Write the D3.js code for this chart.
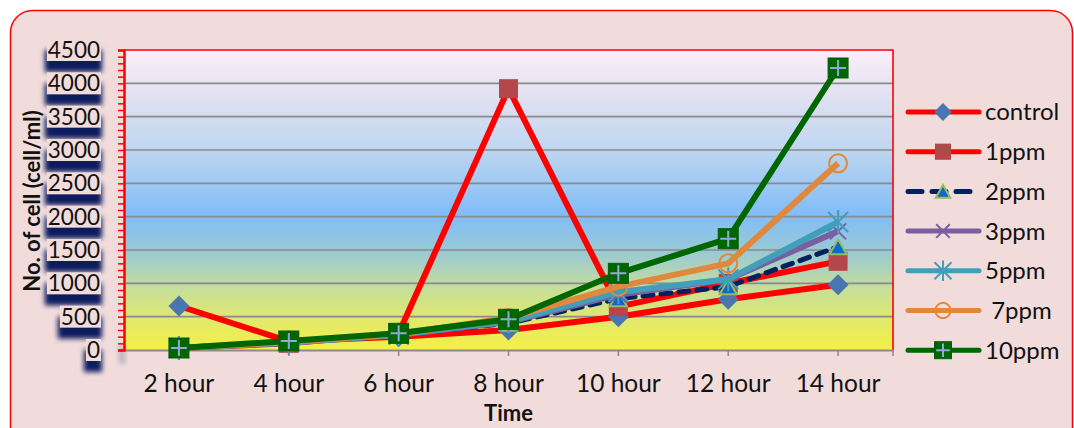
<!DOCTYPE html>
<html>
<head>
<meta charset="utf-8">
<script src="https://cdn.jsdelivr.net/npm/d3@7"></script>
<style>
  html, body { margin: 0; padding: 0; background: #ffffff; }
  svg { display: block; }
  text { font-family: Lato, "Open Sans", sans-serif; fill: #111; }
</style>
</head>
<body>
<svg id="chart" width="1074" height="428"></svg>
<script>
// ---- data ----
const categories = ["2 hour", "4 hour", "6 hour", "8 hour", "10 hour", "12 hour", "14 hour"];
const seriesNames = ["control", "1ppm", "2ppm", "3ppm", "5ppm", " 7ppm", "10ppm"];
const control = [660, 130, 200, 300, 500, 760, 980];
const ppm1    = [30, 100, 250, 3920, 650, 1000, 1330];
const ppm2    = [30, 110, 230, 400, 770, 950, 1550];
const ppm3    = [30, 110, 230, 420, 830, 1060, 1780];
const ppm5    = [30, 110, 230, 430, 870, 1060, 1920];
const ppm7    = [30, 120, 240, 480, 950, 1300, 2800];
const ppm10   = [30, 135, 250, 460, 1150, 1670, 4230];
const yTicks  = [0, 500, 1000, 1500, 2000, 2500, 3000, 3500, 4000, 4500];

const seriesValues = [control, ppm1, ppm2, ppm3, ppm5, ppm7, ppm10];

// ---- styling per series ----
const styles = [
  { line: "#ff0000", width: 6, dash: null, marker: "diamond", fill: "#4a76b0", stroke: "none" },
  { line: "#ff0000", width: 6, dash: null, marker: "square",  fill: "#b3474a", stroke: "none" },
  { line: "#002060", width: 5, dash: "10,8", marker: "triangle", fill: "#0a6ad0", stroke: "#9bbb59" },
  { line: "#7a5fa0", width: 6, dash: null, marker: "x",        fill: "none", stroke: "#7a5fa0" },
  { line: "#419fba", width: 6, dash: null, marker: "star",     fill: "none", stroke: "#419fba" },
  { line: "#e0883c", width: 6, dash: null, marker: "circle",   fill: "none", stroke: "#e0883c" },
  { line: "#006600", width: 6, dash: null, marker: "plusbox",  fill: "#006600", stroke: "#8eaadb" }
];

const svg = d3.select("#chart");
const plot = { left: 124, right: 893, top: 50, bottom: 350 };

const x = d3.scaleBand().domain(categories).range([plot.left, plot.right]);
const y = d3.scaleLinear().domain([0, 4500]).range([plot.bottom, plot.top]);
const cx = c => x(c) + x.bandwidth() / 2;

const defs = svg.append("defs");

// plot area gradient
const grad = defs.append("linearGradient").attr("id", "plotGrad")
  .attr("x1", 0).attr("y1", 0).attr("x2", 0).attr("y2", 1);
[[0, "#fdeefa"], [0.12, "#e7e3f2"], [0.33, "#c0d6f0"], [0.55, "#80bdf8"],
 [0.68, "#9ccad2"], [0.8, "#c7df98"], [0.9, "#e2e96c"], [1, "#f4f044"]]
  .forEach(([o, c]) => grad.append("stop").attr("offset", o).attr("stop-color", c));

const blur = defs.append("filter").attr("id", "shadowBlur")
  .attr("x", "-50%").attr("y", "-50%").attr("width", "200%").attr("height", "200%");
blur.append("feGaussianBlur").attr("stdDeviation", 2.6);

// outer chart frame
svg.append("rect")
  .attr("x", 10.5).attr("y", 10.5).attr("width", 1062).attr("height", 470)
  .attr("rx", 22).attr("ry", 22)
  .attr("fill", "#f2dcdb").attr("stroke", "#ff0000").attr("stroke-width", 1.5);

// plot background
svg.append("rect")
  .attr("x", plot.left).attr("y", plot.top)
  .attr("width", plot.right - plot.left).attr("height", plot.bottom - plot.top)
  .attr("fill", "url(#plotGrad)");

// gridlines
svg.append("g")
  .selectAll("line").data(yTicks.filter(v => v > 0 && v < 4500)).join("line")
  .attr("x1", plot.left).attr("x2", plot.right)
  .attr("y1", d => y(d)).attr("y2", d => y(d))
  .attr("stroke", "#8a8a8a").attr("stroke-width", 1.6);

// plot border (top and right)
svg.append("path")
  .attr("d", `M${plot.left},${plot.top}H${plot.right}V${plot.bottom}`)
  .attr("fill", "none").attr("stroke", "#ff0000").attr("stroke-width", 1.6);

// x axis
const xAxis = svg.append("g")
  .attr("transform", `translate(0,${plot.bottom})`)
  .call(d3.axisBottom(x).tickSize(6).tickPadding(19).tickSizeOuter(0));
xAxis.select(".domain").attr("stroke", "#8a8a8a").attr("stroke-width", 2);
xAxis.selectAll(".tick line").attr("stroke", "#8a8a8a").attr("stroke-width", 1.5);
xAxis.selectAll(".tick text")
  .style("font-family", "Lato, sans-serif").style("font-size", "24.5px").attr("fill", "#111");
xAxis.append("line")
  .attr("x1", plot.right).attr("x2", plot.right).attr("y1", 0).attr("y2", 6)
  .attr("stroke", "#8a8a8a").attr("stroke-width", 1.5);

// faint shadow under the value axis
svg.append("rect")
  .attr("x", 119).attr("y", 346).attr("width", 6).attr("height", 18)
  .attr("fill", "#8890a8").attr("opacity", 0.55).attr("filter", "url(#shadowBlur)");

// y axis: red line with minor ticks
const yAxis = svg.append("g")
  .attr("transform", `translate(${plot.left},0)`)
  .call(d3.axisLeft(y).tickValues(d3.range(0, 4501, 100)).tickSize(6).tickFormat(""));
yAxis.select(".domain").attr("stroke", "#ff0000").attr("stroke-width", 2.5);
yAxis.selectAll(".tick line").attr("stroke", "#ff0000").attr("stroke-width", 1.5);

// y tick labels with boxed navy shadow
const labelRight = 100;
const labG = svg.append("g");
const shadowG = labG.append("g");
const boxG = labG.append("g");
const textG = labG.append("g");
textG.selectAll("text").data(yTicks).join("text")
  .attr("x", labelRight).attr("y", d => y(d)).attr("dy", "0.36em")
  .attr("text-anchor", "end").style("font-size", "22.5px")
  .text(d => d);
textG.selectAll("text").each(function (d) {
  const b = this.getBBox();
  const bx = b.x - 1, bw = b.width + 2, by = y(d) - 11, bh = 22;
  shadowG.append("rect")
    .attr("x", bx - 2).attr("y", by + 11).attr("width", bw + 3).attr("height", bh)
    .attr("fill", "#0a1f5e").attr("filter", "url(#shadowBlur)");
  boxG.append("rect")
    .attr("x", bx).attr("y", by).attr("width", bw).attr("height", bh)
    .attr("fill", "#f2dcdb");
});

// axis titles
svg.append("text")
  .attr("transform", "translate(40,201) rotate(-90)")
  .attr("text-anchor", "middle").style("font-size", "22px").style("font-weight", "bold")
  .text("No. of cell (cell/ml)");
svg.append("text")
  .attr("x", (plot.left + plot.right) / 2).attr("y", 421)
  .attr("text-anchor", "middle").style("font-size", "22px").style("font-weight", "bold")
  .text("Time");

// marker drawing
function drawMarker(g, type, st, scale) {
  const s = scale || 1;
  if (type === "diamond") {
    const r = 10.5 * s;
    g.append("path").attr("d", `M0,${-r}L${r},0L0,${r}L${-r},0Z`).attr("fill", st.fill);
  } else if (type === "square") {
    const h = 9.5 * s;
    g.append("rect").attr("x", -h).attr("y", -h).attr("width", 2 * h).attr("height", 2 * h)
      .attr("fill", st.fill);
  } else if (type === "triangle") {
    const w = 8.5 * s, h = 7.5 * s;
    g.append("path").attr("d", `M0,${-h}L${w},${h}L${-w},${h}Z`)
      .attr("fill", st.fill).attr("stroke", st.stroke).attr("stroke-width", 2);
  } else if (type === "x") {
    const r = 8 * s;
    g.append("path").attr("d", `M${-r},${-r}L${r},${r}M${-r},${r}L${r},${-r}`)
      .attr("stroke", st.stroke).attr("stroke-width", 2);
  } else if (type === "star") {
    const r = 10 * s;
    g.append("path").attr("d", `M${-r},${-r}L${r},${r}M${-r},${r}L${r},${-r}M0,${-r * 1.2}L0,${r * 1.2}`)
      .attr("stroke", st.stroke).attr("stroke-width", 2);
  } else if (type === "circle") {
    g.append("circle").attr("r", 9 * s).attr("fill", "none")
      .attr("stroke", st.stroke).attr("stroke-width", 2);
  } else if (type === "plusbox") {
    const h = 10 * s, p = 8 * s;
    g.append("rect").attr("x", -h).attr("y", -h).attr("width", 2 * h).attr("height", 2 * h)
      .attr("fill", st.fill).attr("stroke", "#0b5a0b").attr("stroke-width", 1);
    g.append("path").attr("d", `M${-p},0H${p}M0,${-p}V${p}`)
      .attr("stroke", st.stroke).attr("stroke-width", 2);
  }
}

// series: line then markers, in order
const line = d3.line().x((d, i) => cx(categories[i])).y(d => y(d));
seriesValues.forEach((vals, si) => {
  const st = styles[si];
  const g = svg.append("g").attr("class", "series");
  g.append("path").datum(vals).attr("d", line)
    .attr("fill", "none").attr("stroke", st.line).attr("stroke-width", st.width)
    .attr("stroke-linejoin", "round")
    .attr("stroke-linecap", st.dash ? "round" : "butt")
    .attr("stroke-dasharray", st.dash);
  vals.forEach((v, i) => {
    const mg = g.append("g").attr("transform", `translate(${cx(categories[i])},${y(v)})`);
    drawMarker(mg, st.marker, st, 1);
  });
});

// legend
const legend = svg.append("g").attr("transform", "translate(908,112)");
seriesNames.forEach((name, i) => {
  const st = styles[i];
  const g = legend.append("g").attr("transform", `translate(0,${i * 39.7})`);
  g.append("line").attr("x1", 0).attr("x2", st.dash ? 62 : 71).attr("y1", 0).attr("y2", 0)
    .attr("stroke", st.line).attr("stroke-width", 5).attr("stroke-linecap", "round")
    .attr("stroke-dasharray", st.dash ? "14,10" : null);
  const mg = g.append("g").attr("transform", "translate(35,0)");
  drawMarker(mg, st.marker, st, 0.85);
  g.append("text").attr("x", 77).attr("y", 0).attr("dy", "0.35em")
    .style("font-size", "24px").style("white-space", "pre").attr("xml:space", "preserve")
    .text(name);
});
</script>
</body>
</html>
